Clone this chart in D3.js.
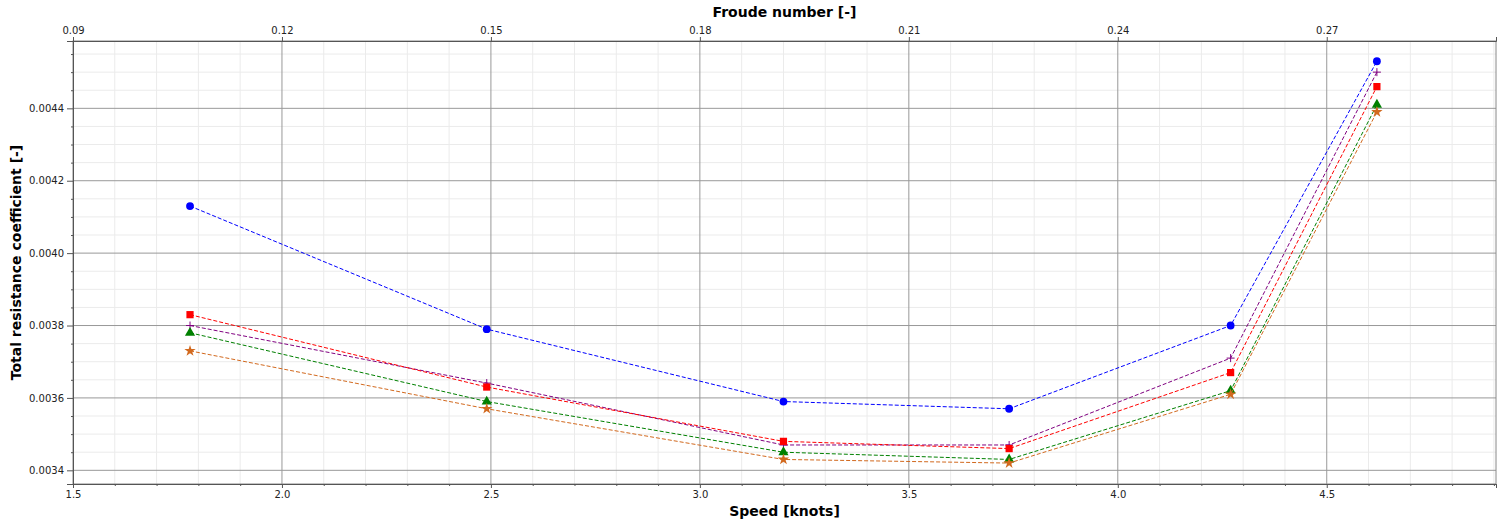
<html>
<head>
<script src="https://d3js.org/d3.v7.min.js"></script>
<style>
  body { margin: 0; background: #fff; }
  text { font-family: "DejaVu Sans", sans-serif; }
</style>
</head>
<body>
<script>
// data
const speeds = [1.78, 2.49, 3.20, 3.74, 4.27, 4.62];
const ctCircle = [0.004130, 0.003790, 0.003590, 0.003570, 0.003800, 0.004530];
const ctPlus = [0.003800, 0.003641, 0.003470, 0.003470, 0.003710, 0.004500];
const ctSquare = [0.003830, 0.003630, 0.003480, 0.003460, 0.003670, 0.004460];
const ctTriangle = [0.003780, 0.003590, 0.003450, 0.003430, 0.003620, 0.004410];
const ctStar = [0.003730, 0.003570, 0.003430, 0.003420, 0.003610, 0.004390];
const speedTicks = [1.5, 2.0, 2.5, 3.0, 3.5, 4.0, 4.5];
const froudeTicks = [0.09, 0.12, 0.15, 0.18, 0.21, 0.24, 0.27];
const ctTicks = [0.0034, 0.0036, 0.0038, 0.0040, 0.0042, 0.0044];

const series = [
  {name: "circle", values: ctCircle, color: "#0000ff", sym: d3.symbolCircle, size: 48},
  {name: "plus", values: ctPlus, color: "#800080", sym: "plus", size: 0},
  {name: "square", values: ctSquare, color: "#ff0000", sym: d3.symbolSquare, size: 52},
  {name: "triangle", values: ctTriangle, color: "#008000", sym: d3.symbolTriangle, size: 45},
  {name: "star", values: ctStar, color: "#d2691e", sym: d3.symbolStar, size: 40}
];

const w = 1503, h = 521;
const m = {top: 41, right: 7, bottom: 37, left: 73};

const svg = d3.select("body").append("svg")
  .attr("width", w).attr("height", h);

const x = d3.scaleLinear().domain([1.5, 4.905]).range([m.left, w - m.right]);
const xTop = d3.scaleLinear().domain([1.5 * 0.06, 4.905 * 0.06]).range([m.left, w - m.right]);
const y = d3.scaleLinear().domain([0.0033622, 0.004586]).range([h - m.bottom, m.top]);

const minorX = d3.range(15, 50).filter(d => d % 5 !== 0).map(d => d / 10);
const minorY = d3.range(3361, 4586).filter(d => d % 50 === 0 && d % 200 !== 0).map(d => d / 1e6);

// grid
const grid = svg.append("g");
grid.selectAll(".mx").data(minorX).enter().append("line")
  .attr("x1", d => x(d)).attr("x2", d => x(d))
  .attr("y1", m.top).attr("y2", h - m.bottom)
  .attr("stroke", "#ebebeb").attr("stroke-width", 1);
grid.selectAll(".my").data(minorY).enter().append("line")
  .attr("y1", d => y(d)).attr("y2", d => y(d))
  .attr("x1", m.left).attr("x2", w - m.right)
  .attr("stroke", "#ebebeb").attr("stroke-width", 1);
grid.selectAll(".Mx").data(speedTicks.slice(1)).enter().append("line")
  .attr("x1", d => x(d)).attr("x2", d => x(d))
  .attr("y1", m.top).attr("y2", h - m.bottom)
  .attr("stroke", "#999").attr("stroke-width", 1);
grid.selectAll(".My").data(ctTicks).enter().append("line")
  .attr("y1", d => y(d)).attr("y2", d => y(d))
  .attr("x1", m.left).attr("x2", w - m.right)
  .attr("stroke", "#999").attr("stroke-width", 1);

// frame
svg.append("rect")
  .attr("x", m.left).attr("y", m.top)
  .attr("width", w - m.left - m.right).attr("height", h - m.top - m.bottom)
  .attr("fill", "none").attr("stroke", "#888");

// axes
svg.append("g")
  .attr("transform", "translate(0," + (h - m.bottom) + ")")
  .call(d3.axisBottom(x).tickValues(speedTicks).tickFormat(d3.format(".1f")).tickSize(4));
svg.append("g")
  .attr("transform", "translate(0," + (h - m.bottom) + ")")
  .call(d3.axisBottom(x).tickValues(minorX).tickFormat("").tickSize(2));
svg.append("g")
  .attr("transform", "translate(0," + m.top + ")")
  .call(d3.axisTop(xTop).tickValues(froudeTicks).tickFormat(d3.format(".2f")).tickSize(4));
svg.append("g")
  .attr("transform", "translate(" + m.left + ",0)")
  .call(d3.axisLeft(y).tickValues(ctTicks).tickFormat(d3.format(".4f")).tickSize(6));
svg.append("g")
  .attr("transform", "translate(" + m.left + ",0)")
  .call(d3.axisLeft(y).tickValues(minorY).tickFormat("").tickSize(2));

svg.selectAll(".domain").attr("stroke", "#555");
svg.selectAll(".tick line").attr("stroke", "#555");
svg.selectAll(".tick text")
  .attr("fill", "#222")
  .style("font-family", "DejaVu Sans")
  .style("font-size", "10px");

// titles
svg.append("text").attr("x", (m.left + w - m.right) / 2).attr("y", 17)
  .attr("text-anchor", "middle").style("font-size", "14px").style("font-weight", "bold")
  .text("Froude number [-]");
svg.append("text").attr("x", (m.left + w - m.right) / 2).attr("y", 516)
  .attr("text-anchor", "middle").style("font-size", "14px").style("font-weight", "bold")
  .text("Speed [knots]");
svg.append("text")
  .attr("transform", "translate(21," + ((m.top + h - m.bottom) / 2) + ") rotate(-90)")
  .attr("text-anchor", "middle").style("font-size", "14px").style("font-weight", "bold")
  .text("Total resistance coefficient [-]");

// lines and markers
const line = d3.line().x(d => x(d[0])).y(d => y(d[1]));

series.forEach(s => {
  const pts = speeds.map((v, i) => [v, s.values[i]]);
  svg.append("path")
    .datum(pts)
    .attr("d", line)
    .attr("fill", "none")
    .attr("stroke", s.color)
    .attr("stroke-width", 1)
    .attr("stroke-dasharray", "4,2");
  const g = svg.append("g");
  if (s.sym === "plus") {
    g.selectAll("path").data(pts).enter().append("path")
      .attr("d", d => `M${x(d[0]) - 4},${y(d[1])}H${x(d[0]) + 4}M${x(d[0])},${y(d[1]) - 4}V${y(d[1]) + 4}`)
      .attr("stroke", s.color).attr("stroke-width", 1).attr("fill", "none");
  } else {
    g.selectAll("path").data(pts).enter().append("path")
      .attr("transform", d => "translate(" + x(d[0]) + "," + y(d[1]) + ")")
      .attr("d", d3.symbol().type(s.sym).size(s.size))
      .attr("fill", s.color);
  }
});
</script>
</body>
</html>
